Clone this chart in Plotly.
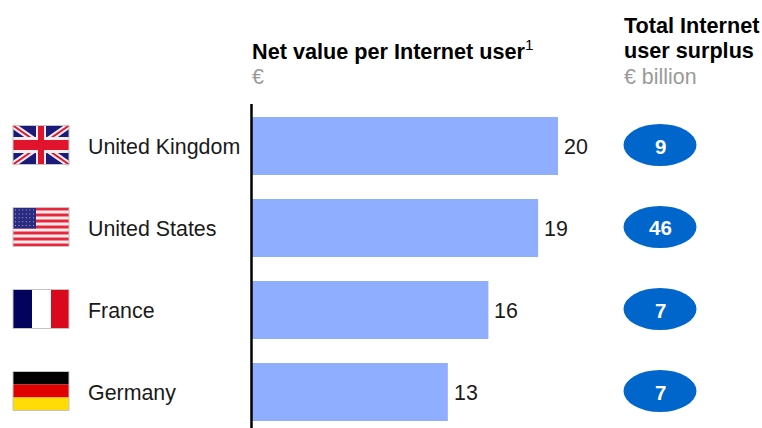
import plotly.graph_objects as go

countries = ["United Kingdom", "United States", "France", "Germany"]
net_value = [20, 18.7, 15.45, 12.8]
net_labels = ["20", "19", "16", "13"]
surplus = [9, 46, 7, 7]
W, H = 762, 428
FONT = "Liberation Sans, Arial, sans-serif"
SIZE = 21.4
BOLD = 21.65
px = lambda x: x / W
py = lambda y: 1 - y / H
centers = [146, 228, 310, 392]

fig = go.Figure(go.Bar(
    x=net_value, y=countries, orientation="h",
    marker=dict(color="#90AEFF", line=dict(width=0)),
    cliponaxis=False, width=58 / 82,
))

shapes, annotations = [], []

def rect(x0, y0, x1, y1, color, line=None):
    shapes.append(dict(type="rect", xref="paper", yref="paper", x0=px(x0), x1=px(x1), y0=py(y0), y1=py(y1),
                       fillcolor=color, line=dict(width=line[1], color=line[0]) if line else dict(width=0), layer="above"))

def seg(x0, y0, x1, y1, color, w):
    shapes.append(dict(type="line", xref="paper", yref="paper", x0=px(x0), x1=px(x1), y0=py(y0), y1=py(y1),
                       line=dict(color=color, width=w), layer="above"))

FX0, FX1 = 13, 69
FH = 39

def flag_frame(cy):
    return cy - FH / 2 - 1, cy + FH / 2 - 1

# UK
t, b = flag_frame(146)
rect(FX0, t, FX1, b, "#1c1a78")
seg(FX0, t, FX1, b, "#f4ecec", 6)
seg(FX0, b, FX1, t, "#f4ecec", 6)
seg(FX0, t, FX1, b, "#dd1530", 2)
seg(FX0, b, FX1, t, "#dd1530", 2)
rect(FX0, (t + b) / 2 - 8, FX1, (t + b) / 2 + 8, "#f6eeee")
rect(36, t, 46, b, "#f6eeee")
rect(FX0, (t + b) / 2 - 5, FX1, (t + b) / 2 + 5, "#e0142c")
rect(38, t, 44, b, "#e0142c")
rect(FX0, t, FX1, b, "rgba(0,0,0,0)", ("#c4c4c4", 1))

# US
t, b = flag_frame(228)
rect(FX0, t, FX1, b, "#f8eeee")
for i in range(7):
    y0 = t + i * FH * 2 / 13
    rect(FX0, y0, FX1, y0 + FH / 13, "#e8263c")
rect(FX0, t, 36, t + FH * 7 / 13, "#2a2a80")
for r in range(5):
    for c in range(6):
        rect(15 + c * 3.6, t + 2 + r * 3.9, 16 + c * 3.6, t + 3 + r * 3.9, "#a8a8d8")
rect(FX0, t, FX1, b, "rgba(0,0,0,0)", ("#c4c4c4", 1))

# France
t, b = flag_frame(310)
rect(FX0, t, 32, b, "#03035e")
rect(32, t, 51, b, "#ffffff")
rect(51, t, FX1, b, "#d9081c")
rect(FX0, t, FX1, b, "rgba(0,0,0,0)", ("#c4c4c4", 1))

# Germany
t, b = flag_frame(392)
rect(FX0, t, FX1, t + FH / 3, "#000000")
rect(FX0, t + FH / 3, FX1, t + 2 * FH / 3, "#e00000")
rect(FX0, t + 2 * FH / 3, FX1, b, "#ffdc05")
rect(FX0, t, FX1, b, "rgba(0,0,0,0)", ("#c4c4c4", 1))


def text(x, y, s, size=SIZE, color="#1a1a1a", anchor="left"):
    annotations.append(dict(xref="paper", yref="paper", x=px(x), y=py(y), text=s, showarrow=False,
                            xanchor=anchor, yanchor="middle", align=anchor, borderpad=0, borderwidth=0,
                            font=dict(family=FONT, size=size, color=color)))

for name, cy, val, v, lab in zip(countries, centers, surplus, net_value, net_labels):
    text(88, cy + 1, name)
    shapes.append(dict(type="circle", xref="paper", yref="paper", x0=px(623.5), x1=px(696.5),
                       y0=py(cy - 1 - 21), y1=py(cy - 1 + 21), fillcolor="#0066CC", line=dict(width=0), layer="above"))
    text(660, cy, f"<b>{val}</b>", size=20.5, color="#ffffff", anchor="center")
    annotations.append(dict(xref="x", yref="y", x=v, y=name, text=lab, showarrow=False, xanchor="left",
                            xshift=5, yshift=-1, borderpad=0, font=dict(family=FONT, size=SIZE, color="#1a1a1a")))

text(252, 50, "<b>Net value per Internet user</b><sup>1</sup>", size=BOLD, color="#000000")
text(252, 77, "€", color="#9a9a9a")
text(624, 25, "<b>Total Internet</b>", size=BOLD, color="#000000")
text(624, 51, "<b>user surplus</b>", size=BOLD, color="#000000")
text(624, 77, "€ billion", color="#9a9a9a")

fig.update_layout(
    width=W, height=H, margin=dict(l=0, r=0, t=0, b=0), showlegend=False,
    paper_bgcolor="white", plot_bgcolor="white", shapes=shapes, annotations=annotations,
    xaxis=dict(domain=[252 / W, 1], range=[0, (W - 252) / 15.3], visible=False, fixedrange=True),
    yaxis=dict(range=[(428 - 146) / 82, (0 - 146) / 82], showticklabels=False, ticks="", showgrid=False,
               zeroline=False, visible=False),
)
fig.add_shape(type="line", xref="paper", yref="paper", x0=px(251.5), x1=px(251.5), y0=py(104), y1=py(428),
              line=dict(color="black", width=2.5), layer="above")
fig.write_html("out.html", config=dict(displayModeBar=False),
               post_script="document.body.style.margin='0';document.documentElement.style.overflow='hidden';")
